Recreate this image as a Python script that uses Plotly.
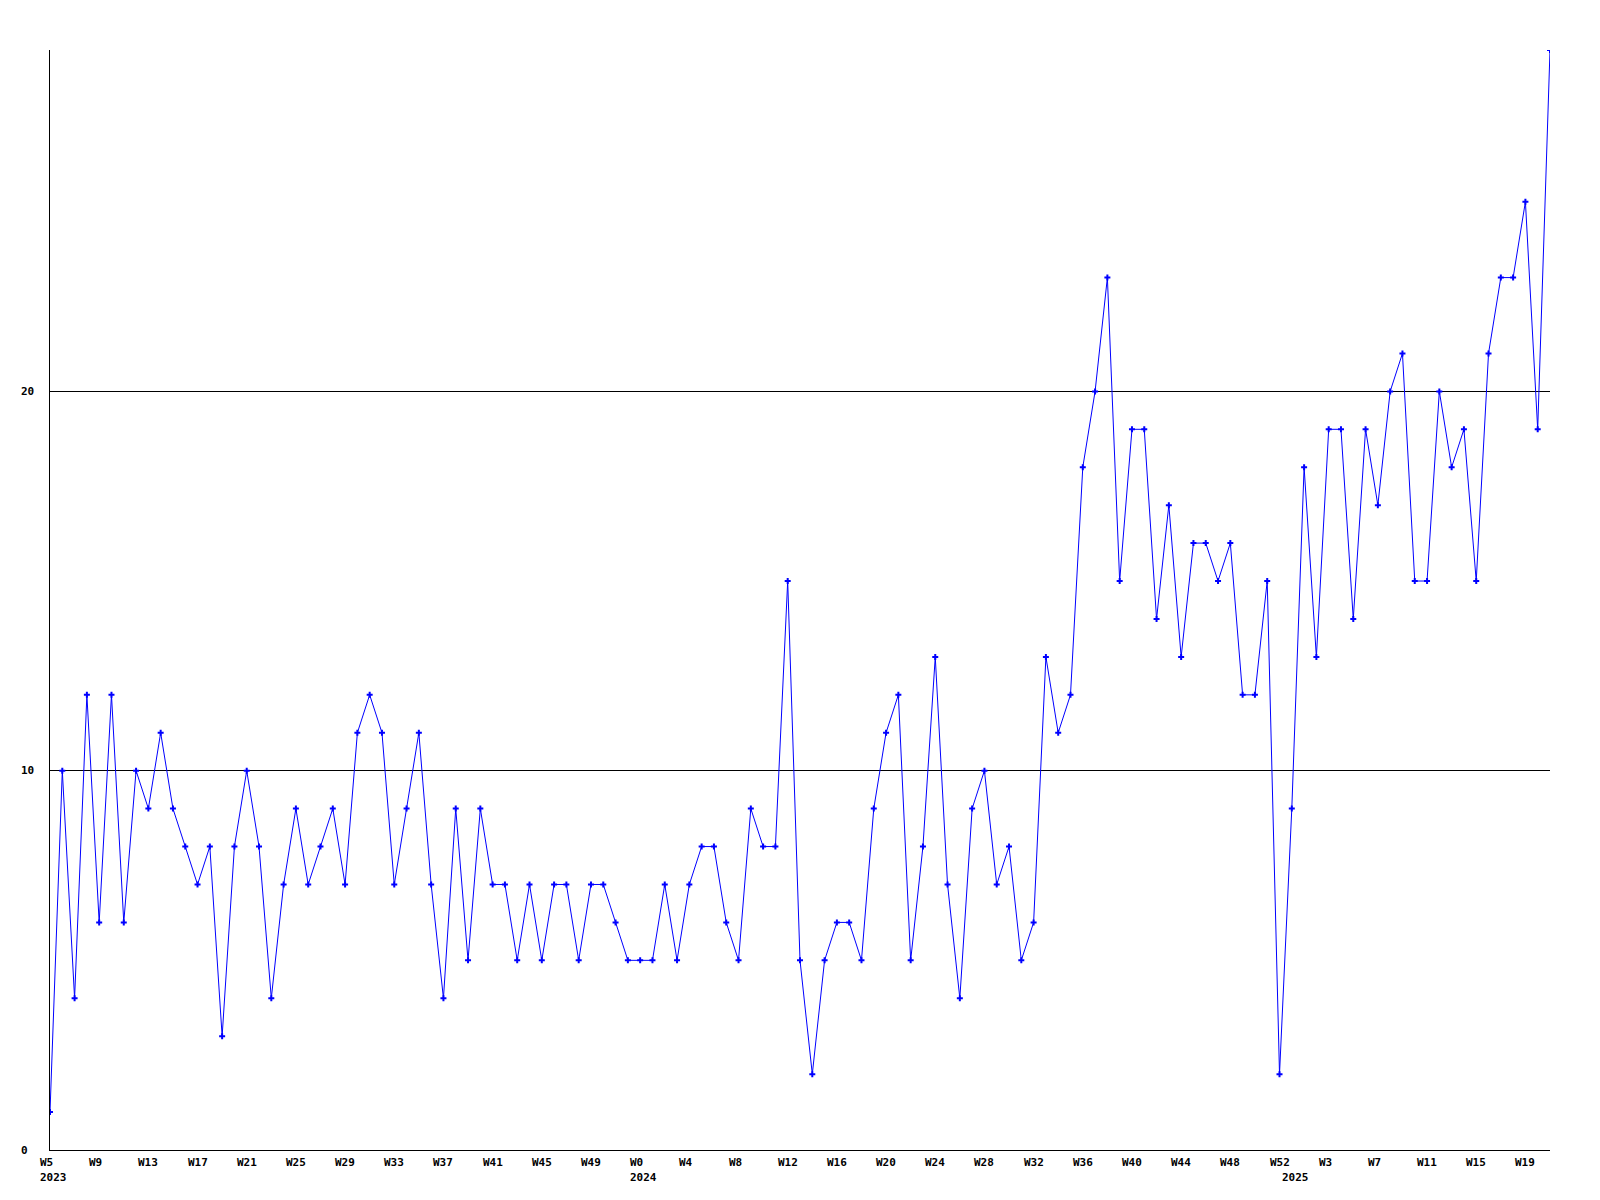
import plotly.graph_objects as go

# Weekly series: 2023 W5..W52, 2024 W0..W52, 2025 W0..W21
year_2023_weeks = list(range(5, 53))
year_2024_weeks = list(range(0, 53))
year_2025_weeks = list(range(0, 22))

values = [1, 10, 4, 12, 6, 12, 6, 10, 9, 11, 9, 8, 7, 8, 3, 8, 10, 8, 4, 7,
          9, 7, 8, 9, 7, 11, 12, 11, 7, 9, 11, 7, 4, 9, 5, 9, 7, 7, 5, 7,
          5, 7, 7, 5, 7, 7, 6, 5, 5, 5, 7, 5, 7, 8, 8, 6, 5, 9, 8, 8,
          15, 5, 2, 5, 6, 6, 5, 9, 11, 12, 5, 8, 13, 7, 4, 9, 10, 7, 8, 5,
          6, 13, 11, 12, 18, 20, 23, 15, 19, 19, 14, 17, 13, 16, 16, 15, 16, 12, 12, 15,
          2, 9, 18, 13, 19, 19, 14, 19, 17, 20, 21, 15, 15, 20, 18, 19, 15, 21, 23, 23,
          25, 19, 29]

y_ticks = [0, 10, 20]
y_max = 29
tick_every = 4

# build point labels
points = ([(2023, w) for w in year_2023_weeks] +
          [(2024, w) for w in year_2024_weeks] +
          [(2025, w) for w in year_2025_weeks])
x_idx = list(range(len(points)))

FONT = dict(family="DejaVu Sans Mono", size=11, color="black")
BLUE = "#0000ff"

fig = go.Figure()
fig.add_trace(go.Scatter(
    x=x_idx, y=values, mode="lines+markers",
    line=dict(color=BLUE, width=1),
    marker=dict(symbol="cross", size=5, color=BLUE, line=dict(width=0)),
    hoverinfo="x+y", showlegend=False,
))

annotations = []
# week tick labels
for i, (yr, wk) in enumerate(points):
    if i % tick_every == 0:
        annotations.append(dict(
            x=i, y=0, xref="x", yref="paper", text="<b>W%d</b>" % wk,
            xanchor="left", yanchor="top", xshift=-11, yshift=-5,
            showarrow=False, font=FONT, borderpad=0))
# year labels at the first point of each year
seen = set()
for i, (yr, wk) in enumerate(points):
    if yr not in seen:
        seen.add(yr)
        annotations.append(dict(
            x=i, y=0, xref="x", yref="paper", text="<b>%d</b>" % yr,
            xanchor="left", yanchor="top", xshift=-11, yshift=-20,
            showarrow=False, font=FONT, borderpad=0))
# y tick labels
for v in y_ticks:
    annotations.append(dict(
        x=0, y=v, xref="paper", yref="y", text="<b>%d</b>" % v,
        xanchor="left", yanchor="middle", xshift=-30.5,
        showarrow=False, font=FONT, borderpad=0))

# page body adds an 8px offset; figure sized so plot area lands at 50..1550 x 50..1150
fig.update_layout(
    width=1592, height=1192,
    margin=dict(l=42, r=50, t=42, b=50, pad=0),
    paper_bgcolor="white", plot_bgcolor="white",
    xaxis=dict(range=[0, len(points) - 1], showgrid=False, zeroline=False,
               showline=True, linecolor="black", linewidth=1,
               showticklabels=False, ticks=""),
    yaxis=dict(range=[0, y_max], tickvals=y_ticks, showgrid=True,
               gridcolor="black", gridwidth=1, zeroline=False,
               showline=True, linecolor="black", linewidth=1,
               showticklabels=False, ticks=""),
    annotations=annotations,
)

fig.write_html("out.html")
